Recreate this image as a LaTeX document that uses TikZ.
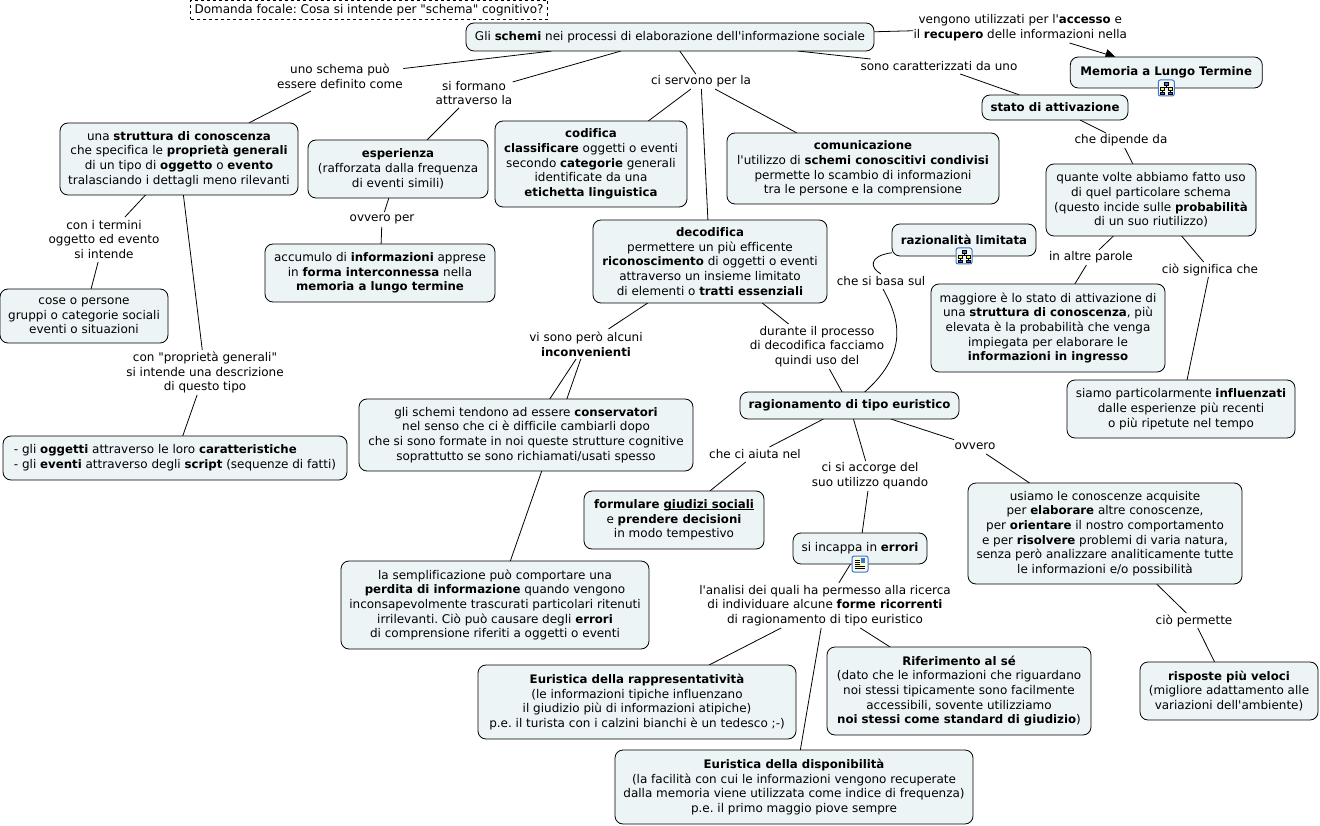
\documentclass[tikz,border=0pt]{standalone}
\usepackage{fontspec}
\setmainfont{DejaVu Sans}[Ligatures={TeXOff,NoCommon},BoldFeatures={Scale=0.98}]
\usepackage{xcolor}
\usetikzlibrary{arrows.meta,positioning,backgrounds}
\definecolor{MAPpale}{HTML}{EDF4F6}
\definecolor{MAPicon}{HTML}{3C78C8}
\newcommand{\mapfont}{\fontsize{12}{14.7}\selectfont\frenchspacing}
\newcommand{\sottolinea}[1]{\setbox0\hbox{#1}\rlap{\rule[-1.7pt]{\wd0}{0.8pt}}\box0}
\tikzset{conceptbox/.style={draw=black,line width=0.8pt,fill=MAPpale,rounded corners=8pt,align=center,inner sep=0pt,outer sep=0pt,font=\mapfont},
 linklabel/.style={align=center,inner sep=0.5pt,outer sep=0pt,minimum height=15pt,font=\mapfont},
 maplink/.style={draw=black,line width=0.8pt},
 mapicon/.style={draw=MAPicon,fill=MAPpale!60,rounded corners=2pt,line width=1pt,minimum size=16pt,inner sep=0pt}}
\newcommand{\treeicon}[2]{%
 \node[mapicon] (#2) at (#1.south) {};
 \draw[black,line width=0.5pt] ([yshift=3pt]#2.center)--([yshift=0.5pt]#2.center);
 \draw[black,line width=0.5pt] ([xshift=-4pt,yshift=-4pt]#2.center)--([xshift=-4pt,yshift=0.5pt]#2.center)--([xshift=4pt,yshift=0.5pt]#2.center)--([xshift=4pt,yshift=-4pt]#2.center);
 \filldraw[draw=black,fill=MAPicon,line width=0.4pt] ([xshift=-2pt,yshift=3pt]#2.center) rectangle ([xshift=2pt,yshift=6pt]#2.center);
 \filldraw[draw=black,fill=yellow!70,line width=0.4pt] ([xshift=-6pt,yshift=-2pt]#2.center) rectangle ([xshift=-2pt,yshift=1pt]#2.center);
 \filldraw[draw=black,fill=yellow!70,line width=0.4pt] ([xshift=2pt,yshift=-2pt]#2.center) rectangle ([xshift=6pt,yshift=1pt]#2.center);
 \filldraw[draw=black,fill=MAPicon,line width=0.4pt] ([xshift=-6pt,yshift=-6pt]#2.center) rectangle ([xshift=-2pt,yshift=-4pt]#2.center);
 \filldraw[draw=black,fill=MAPicon,line width=0.4pt] ([xshift=2pt,yshift=-6pt]#2.center) rectangle ([xshift=6pt,yshift=-4pt]#2.center);}
\newcommand{\pageicon}[2]{%
 \node[mapicon] (#2) at (#1.south) {};
 \fill[yellow!25] ([xshift=-5pt,yshift=-6pt]#2.center) rectangle ([xshift=5pt,yshift=6pt]#2.center);
 \fill[MAPicon] ([xshift=1pt,yshift=1pt]#2.center) rectangle ([xshift=5pt,yshift=6pt]#2.center);
 \foreach \liney in {4,2,0}{\draw[black,line width=0.6pt] ([xshift=-5pt,yshift=\liney pt]#2.center)--([xshift=0pt,yshift=\liney pt]#2.center);}
 \foreach \liney in {-2,-4}{\draw[black,line width=0.6pt] ([xshift=-5pt,yshift=\liney pt]#2.center)--([xshift=5pt,yshift=\liney pt]#2.center);}}
\begin{document}
\begin{tikzpicture}[x=1pt,y=1pt]
\useasboundingbox (0,0) rectangle (1320,-826);
\node[draw=black,dashed,inner sep=0pt,minimum height=19pt,minimum width=357pt,align=center,font=\mapfont] (focale) at (369,-10) {Domanda focale: Cosa si intende per "schema" cognitivo?};
\node[conceptbox,minimum width=408pt,minimum height=28pt] (schemi) at (670,-37)
 {Gli \textbf{schemi} nei processi di elaborazione dell'informazione sociale};
% ramo della definizione
\node[linklabel,minimum height=30pt,below=10pt of schemi,xshift=-330pt] (definito) {uno schema può\\essere definito come};
\node[conceptbox,minimum width=238pt,minimum height=72pt,below=32pt of definito,xshift=-161pt] (struttura)
 {una \textbf{struttura di conoscenza}\\che specifica le \textbf{proprietà generali}\\di un tipo di \textbf{oggetto} o \textbf{evento}\\tralasciando i dettagli meno rilevanti};
\node[linklabel,minimum height=45pt,below=22pt of struttura,xshift=-75pt] (termini) {con i termini\\oggetto ed evento\\si intende};
\node[conceptbox,minimum width=168pt,minimum height=54pt,below=27pt of termini,xshift=-20pt] (cose)
 {cose o persone\\gruppi o categorie sociali\\eventi o situazioni};
\node[linklabel,minimum height=45pt,below=155pt of struttura,xshift=26pt] (proprieta) {con "proprietà generali"\\si intende una descrizione\\di questo tipo};
\node[conceptbox,minimum width=344pt,minimum height=44pt,below=41pt of proprieta,xshift=-30pt] (oggetti)
 {\begin{tabular}{@{}l@{}}- gli \textbf{oggetti} attraverso le loro \textbf{caratteristiche}\\- gli \textbf{eventi} attraverso degli \textbf{script} (sequenze di fatti)\end{tabular}};
% ramo della formazione
\node[linklabel,minimum height=30pt,below=27pt of schemi,xshift=-196pt] (formano) {si formano\\attraverso la};
\node[conceptbox,minimum width=180pt,minimum height=58pt,below=32pt of formano,xshift=-76pt] (esperienza)
 {\textbf{esperienza}\\(rafforzata dalla frequenza\\di eventi simili)};
\node[linklabel,below=14pt of esperienza,xshift=-16pt] (ovveroper) {ovvero per};
\node[conceptbox,minimum width=230pt,minimum height=58pt,below=17pt of ovveroper,xshift=-2pt] (accumulo)
 {accumulo di \textbf{informazioni} apprese\\in \textbf{forma interconnessa} nella\\\textbf{memoria a lungo termine}};
% ramo delle funzioni
\node[linklabel,below=23pt of schemi,xshift=31pt] (servono) {ci servono per la};
\node[conceptbox,minimum width=192pt,minimum height=86pt,below=32pt of servono,xshift=-110pt] (codifica)
 {\textbf{codifica}\\\textbf{classificare} oggetti o eventi\\secondo \textbf{categorie} generali\\identificate da una\\\textbf{etichetta linguistica}};
\node[conceptbox,minimum width=272pt,minimum height=71pt,below=44pt of servono,xshift=162pt] (comunicazione)
 {\textbf{comunicazione}\\l'utilizzo di \textbf{schemi conoscitivi condivisi}\\permette lo scambio di informazioni\\tra le persone e la comprensione};
\node[conceptbox,minimum width=234pt,minimum height=83pt,below=131pt of servono,xshift=9pt] (decodifica)
 {\textbf{decodifica}\\permettere un più efficente\\\textbf{riconoscimento} di oggetti o eventi\\attraverso un insieme limitato\\di elementi o \textbf{tratti essenziali}};
\node[linklabel,minimum height=30pt,below=26pt of decodifica,xshift=-124pt] (inconvenienti) {vi sono però alcuni\\\textbf{inconvenienti}};
\node[conceptbox,minimum width=334pt,minimum height=72pt,below=40pt of inconvenienti,xshift=-60pt] (conservatori)
 {gli schemi tendono ad essere \textbf{conservatori}\\nel senso che ci è difficile cambiarli dopo\\che si sono formate in noi queste strutture cognitive\\soprattutto se sono richiamati/usati spesso};
\node[conceptbox,minimum width=308pt,minimum height=88pt,below=202pt of inconvenienti,xshift=-91pt] (semplificazione)
 {la semplificazione può comportare una\\\textbf{perdita di informazione} quando vengono\\inconsapevolmente trascurati particolari ritenuti\\irrilevanti. Ciò può causare degli \textbf{errori}\\di comprensione riferiti a oggetti o eventi};
\node[linklabel,minimum height=45pt,below=21pt of decodifica,xshift=107pt] (durante) {durante il processo\\di decodifica facciamo\\quindi uso del};
\node[conceptbox,minimum width=219pt,minimum height=27pt,below=23pt of durante,xshift=32.5pt] (euristico)
 {\textbf{ragionamento di tipo euristico}};
\node[linklabel,above=103pt of euristico,xshift=31.5pt] (basa) {che si basa sul};
\node[conceptbox,minimum width=144pt,minimum height=32pt,above=18pt of basa,xshift=83pt] (razionalita)
 {\textbf{razionalità limitata}};
\node[linklabel,below=28pt of euristico,xshift=-94.5pt] (aiuta) {che ci aiuta nel};
\node[conceptbox,minimum width=180pt,minimum height=58pt,below=29pt of aiuta,xshift=-81pt] (formulare)
 {\textbf{formulare \sottolinea{giudizi sociali}}\\e \textbf{prendere decisioni}\\in modo tempestivo};
\node[linklabel,minimum height=30pt,below=42pt of euristico,xshift=20.5pt] (accorge) {ci si accorge del\\suo utilizzo quando};
\node[conceptbox,minimum width=134pt,minimum height=31pt,below=42pt of accorge,xshift=-10pt] (errori)
 {si incappa in \textbf{errori}};
\node[linklabel,minimum height=45pt,below=19pt of errori,xshift=-35pt] (analisi) {l'analisi dei quali ha permesso alla ricerca\\di individuare alcune \textbf{forme ricorrenti}\\di ragionamento di tipo euristico};
\node[conceptbox,minimum width=318pt,minimum height=74pt,below=37pt of analisi,xshift=-188pt] (rappresentativita)
 {\textbf{Euristica della rappresentatività}\\(le informazioni tipiche influenzano\\il giudizio più di informazioni atipiche)\\p.e. il turista con i calzini bianchi è un tedesco ;-)};
\node[conceptbox,minimum width=358pt,minimum height=74pt,below=122pt of analisi,xshift=-31pt] (disponibilita)
 {\textbf{Euristica della disponibilità}\\(la facilità con cui le informazioni vengono recuperate\\dalla memoria viene utilizzata come indice di frequenza)\\p.e. il primo maggio piove sempre};
\node[conceptbox,minimum width=264pt,minimum height=88pt,below=19pt of analisi,xshift=134pt] (riferimento)
 {\textbf{Riferimento al sé}\\(dato che le informazioni che riguardano\\noi stessi tipicamente sono facilmente\\accessibili, sovente utilizziamo\\\textbf{noi stessi come standard di giudizio})};
\node[linklabel,below=20pt of euristico,xshift=125.5pt] (ovvero) {ovvero};
\node[conceptbox,minimum width=274pt,minimum height=101pt,below=29pt of ovvero,xshift=130pt] (usiamo)
 {usiamo le conoscenze acquisite\\per \textbf{elaborare} altre conoscenze,\\per \textbf{orientare} il nostro comportamento\\e per \textbf{risolvere} problemi di varia natura,\\senza però analizzare analiticamente tutte\\le informazioni e/o possibilità};
\node[linklabel,below=29pt of usiamo,xshift=89pt] (permette) {ciò permette};
\node[conceptbox,minimum width=178pt,minimum height=58pt,below=34pt of permette,xshift=35pt] (risposte)
 {\textbf{risposte più veloci}\\(migliore adattamento alle\\variazioni dell'ambiente)};
% ramo della memoria
\node[linklabel,minimum height=30pt,right=39pt of schemi,yshift=9pt] (vengono) {vengono utilizzati per l'\textbf{accesso} e\\il \textbf{recupero} delle informazioni nella};
\node[conceptbox,minimum width=192pt,minimum height=31pt,below=14pt of vengono,xshift=146pt] (memoria)
 {\textbf{Memoria a Lungo Termine}};
\node[linklabel,below=8pt of schemi,xshift=269pt] (caratterizzati) {sono caratterizzati da uno};
\node[conceptbox,minimum width=146pt,minimum height=25pt,below=21pt of caratterizzati,xshift=116pt] (stato)
 {\textbf{stato di attivazione}};
\node[linklabel,below=13pt of stato,xshift=66pt] (dipende) {che dipende da};
\node[conceptbox,minimum width=210pt,minimum height=72pt,below=16pt of dipende,xshift=30pt] (quante)
 {quante volte abbiamo fatto uso\\di quel particolare schema\\(questo incide sulle \textbf{probabilità}\\di un suo riutilizzo)};
\node[linklabel,below=14pt of quante,xshift=-60pt] (altre) {in altre parole};
\node[conceptbox,minimum width=234pt,minimum height=88pt,below=19pt of altre,xshift=-43pt] (maggiore)
 {maggiore è lo stato di attivazione di\\una \textbf{struttura di conoscenza}, più\\elevata è la probabilità che venga\\impiegata per elaborare le\\\textbf{informazioni in ingresso}};
\node[linklabel,below=26pt of quante,xshift=59pt] (significa) {ciò significa che};
\node[conceptbox,minimum width=228pt,minimum height=58pt,below=103pt of significa,xshift=-29pt] (siamo)
 {siamo particolarmente \textbf{influenzati}\\dalle esperienze più recenti\\o più ripetute nel tempo};
% icone
\treeicon{memoria}{iconamemoria}
\treeicon{razionalita}{iconarazionalita}
\pageicon{errori}{iconaerrori}
% collegamenti
\begin{pgfonlayer}{background}
\foreach \from/\to in {schemi/definito,definito/struttura,struttura/termini,termini/cose,
 struttura/proprieta,proprieta/oggetti,schemi/formano,formano/esperienza,esperienza/ovveroper,
 ovveroper/accumulo,schemi/servono,servono/codifica,servono/comunicazione,servono/decodifica,
 decodifica/inconvenienti,inconvenienti/conservatori,inconvenienti/semplificazione,decodifica/durante,
 durante/euristico,euristico/aiuta,aiuta/formulare,euristico/accorge,accorge/errori,errori/analisi,
 analisi/rappresentativita,analisi/disponibilita,analisi/riferimento,euristico/ovvero,ovvero/usiamo,
 usiamo/permette,permette/risposte,schemi/vengono,schemi/caratterizzati,caratterizzati/stato,
 stato/dipende,dipende/quante,quante/altre,altre/maggiore,quante/significa,significa/siamo}
 {\draw[maplink] (\from)--(\to);}
\draw[maplink,-{Triangle[length=10pt,width=10pt]}] (vengono)--(memoria);
\draw[maplink] (razionalita.190) .. controls (868,-256) and (870,-268) .. (basa.north);
\draw[maplink] (basa.285) .. controls (897,-315) and (912,-350) .. (euristico);
\end{pgfonlayer}
\end{tikzpicture}
\end{document}
